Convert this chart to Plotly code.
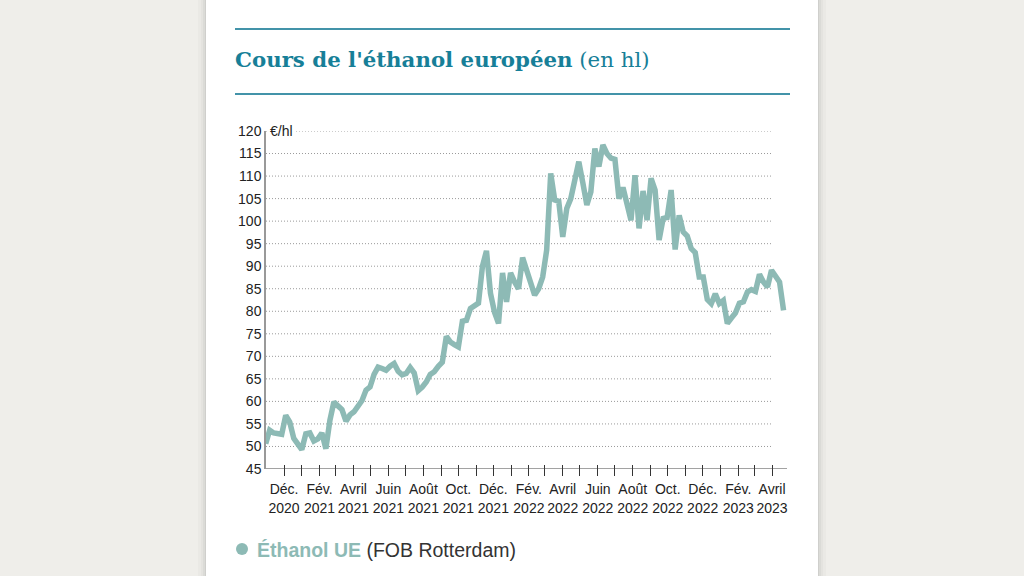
import plotly.graph_objects as go
import pandas as pd

# ---------------- data ----------------
first_week = "2020-10-30"
prices = [
    50.6, 53.6, 53.0, 52.7, 52.7, 56.9, 55.4, 51.8, 50.3, 49.3,
    52.8, 53.0, 51.2, 51.7, 53.0, 49.5, 55.8, 59.9, 59.0, 58.2,
    55.6, 57.0, 57.7, 58.8, 60.2, 62.5, 63.2, 66.0, 67.6, 67.3,
    66.9, 67.8, 68.4, 66.7, 65.9, 66.2, 67.5, 66.3, 62.4, 63.2,
    64.3, 66.0, 66.6, 67.8, 68.7, 74.4, 73.2, 72.6, 72.1, 77.8,
    78.0, 80.6, 81.2, 81.8, 90.0, 93.4, 84.0, 79.8, 77.3, 88.5,
    82.1, 88.5, 86.5, 85.0, 91.9, 89.0, 86.0, 83.6, 85.0, 87.6,
    93.6, 110.6, 104.7, 104.4, 96.5, 102.8, 105.0, 109.0, 113.2, 108.5,
    103.6, 106.5, 116.1, 112.1, 116.9, 115.0, 114.0, 113.7, 105.0, 107.5,
    104.0, 100.2, 110.2, 98.4, 106.7, 100.2, 109.5, 106.9, 95.8, 100.6,
    100.8, 106.9, 93.7, 101.3, 97.6, 96.7, 93.9, 93.0, 87.6, 87.6,
    82.6, 81.7, 83.9, 81.7, 82.4, 77.3, 78.5, 79.6, 81.8, 82.1,
    84.3, 84.8, 84.4, 88.2, 86.5, 85.4, 89.1, 87.6, 86.5, 80.2,
]
dates = pd.date_range(first_week, periods=len(prices), freq="7D")

tick_dates = [
    "2020-12-01", "2021-01-01", "2021-02-01", "2021-03-01", "2021-04-01",
    "2021-05-01", "2021-06-01", "2021-07-01", "2021-08-01", "2021-09-01",
    "2021-10-01", "2021-11-01", "2021-12-01", "2022-01-01", "2022-02-01",
    "2022-03-01", "2022-04-01", "2022-05-01", "2022-06-01", "2022-07-01",
    "2022-08-01", "2022-09-01", "2022-10-01", "2022-11-01", "2022-12-01",
    "2023-01-01", "2023-02-01", "2023-03-01", "2023-04-01",
]
tick_labels = [
    "Déc.<br>2020", "", "Fév.<br>2021", "", "Avril<br>2021",
    "", "Juin<br>2021", "", "Août<br>2021", "",
    "Oct.<br>2021", "", "Déc.<br>2021", "", "Fév.<br>2022",
    "", "Avril<br>2022", "", "Juin<br>2022", "",
    "Août<br>2022", "", "Oct.<br>2022", "", "Déc.<br>2022",
    "", "Fév.<br>2023", "", "Avril<br>2023",
]
y_ticks = [45, 50, 55, 60, 65, 70, 75, 80, 85, 90, 95, 100, 105, 110, 115, 120]

title_bold = "Cours de l'éthanol européen"
title_rest = "(en hl)"
unit_label = "€/hl"
series_name = "Éthanol UE"
series_note = "(FOB Rotterdam)"

# ---------------- styling ----------------
LINE_COLOR = "#8dbab5"
TEAL = "#177f98"
RULE = "#4393a9"
SANS = "Liberation Sans, Arial, sans-serif"
SERIF = "DejaVu Serif, serif"

FIG_W, FIG_H = 1024, 576
L, R, T, B = 266, 787, 131, 469
PW, PH = R - L, B - T


def px(x):
    return (x - L) / PW


def py(y):
    return (B - y) / PH


x_range = ["2020-10-30 14:00", "2023-04-27"]
grid_end = "2023-04-01"

fig = go.Figure()
fig.add_trace(go.Scatter(
    x=dates, y=prices, mode="lines",
    line=dict(color=LINE_COLOR, width=5.5),
    hoverinfo="x+y", showlegend=False,
))

shapes = []
# card shadow + card
for pad, alpha in [(8, 0.018), (5, 0.025), (3, 0.035), (1, 0.05)]:
    shapes.append(dict(type="rect", xref="paper", yref="paper",
                       x0=px(206 - pad), x1=px(818 + pad), y0=py(FIG_H + 20), y1=py(-20),
                       fillcolor=f"rgba(0,0,0,{alpha})", line=dict(width=0), layer="below"))
shapes.append(dict(type="rect", xref="paper", yref="paper",
                   x0=px(206), x1=px(818), y0=py(FIG_H + 20), y1=py(-20),
                   fillcolor="white", line=dict(width=0), layer="below"))
# title rules
for yy in (29, 94):
    shapes.append(dict(type="line", xref="paper", yref="paper",
                       x0=px(235), x1=px(790), y0=py(yy), y1=py(yy),
                       line=dict(color=RULE, width=2)))
# dotted gridlines
for v in y_ticks[1:]:
    shapes.append(dict(type="line", xref="x", yref="y",
                       x0=x_range[0], x1=grid_end, y0=v, y1=v,
                       line=dict(color="#9a9a9a", width=1, dash="1px,2px"), layer="below"))
# x axis baseline
shapes.append(dict(type="line", xref="paper", yref="y", x0=0, x1=1, y0=45, y1=45,
                   line=dict(color="#444", width=1)))
# legend dot
shapes.append(dict(type="circle", xref="paper", yref="paper",
                   x0=px(236), x1=px(248), y0=py(555), y1=py(543),
                   fillcolor=LINE_COLOR, line=dict(width=0)))

annotations = [
    dict(xref="paper", yref="paper", x=px(233), y=py(59), xanchor="left", yanchor="middle",
         text=f"<b>{title_bold}</b> {title_rest}", showarrow=False,
         font=dict(family=SERIF, size=21.3, color=TEAL)),
    dict(xref="paper", yref="paper", x=px(268), y=py(131), xanchor="left", yanchor="middle",
         text=unit_label, showarrow=False, bgcolor="white", borderpad=1,
         font=dict(family=SANS, size=14, color="#222")),
    dict(xref="paper", yref="paper", x=px(255), y=py(550), xanchor="left", yanchor="middle",
         text=f"<b>{series_name}</b> <span style='color:#333'>{series_note}</span>",
         showarrow=False, font=dict(family=SANS, size=19.5, color=LINE_COLOR)),
]

fig.update_layout(
    width=FIG_W, height=FIG_H, autosize=False,
    margin=dict(l=L, r=FIG_W - R, t=T, b=FIG_H - B, pad=0),
    paper_bgcolor="#efeeea", plot_bgcolor="white",
    shapes=shapes, annotations=annotations,
    xaxis=dict(
        type="date", range=x_range, anchor="free", position=py(463.5),
        showgrid=False, showline=False, zeroline=False,
        ticks="outside", ticklen=11, tickwidth=1, tickcolor="#333",
        tickvals=tick_dates, ticktext=tick_labels, ticklabelstandoff=2,
        tickfont=dict(family=SANS, size=14, color="#222"),
        fixedrange=True,
    ),
    yaxis=dict(
        range=[45, 120], tickvals=y_ticks, ticks="", showgrid=False,
        showline=True, linecolor="#999", linewidth=1.5, zeroline=False,
        tickfont=dict(family=SANS, size=14, color="#222"),
        fixedrange=True,
    ),
    showlegend=False,
)

fig.write_html(
    "out.html",
    config={"displayModeBar": False},
    post_script="document.body.style.margin='0';document.body.style.overflow='hidden';",
)
